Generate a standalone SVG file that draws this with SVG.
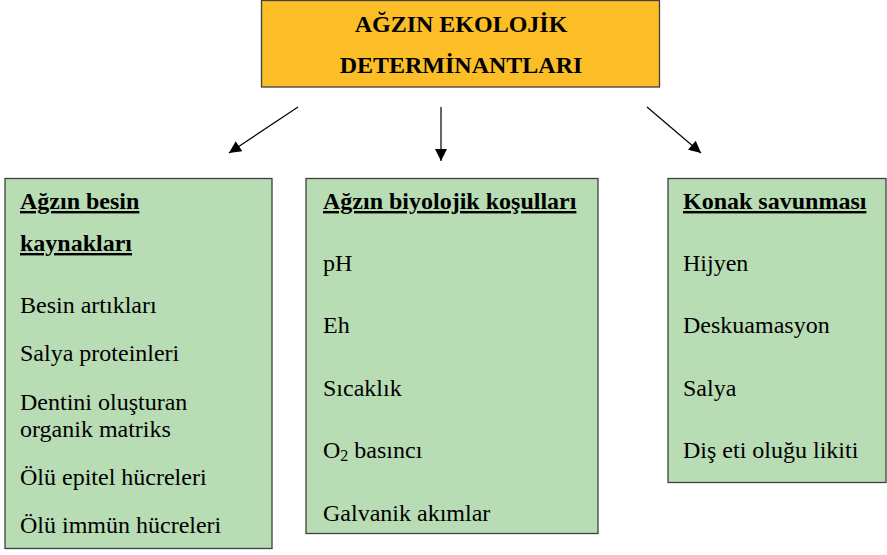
<svg xmlns="http://www.w3.org/2000/svg" width="887" height="555" viewBox="0 0 887 555">
<style>
text{font-family:'Liberation Serif', serif}
.t{font-size:24px;fill:#000}
.h{font-weight:bold;text-decoration:underline}
.title{font-size:24px;font-weight:bold;fill:#000;text-anchor:middle}
.box{fill:#B8DCB4;stroke:#404040;stroke-width:1.3}
.top{fill:#FBBE27;stroke:#404040;stroke-width:1.3}
.con{stroke:#000;stroke-width:1.2;fill:none;marker-end:url(#ah)}
</style>
<defs>
<marker id="ah" viewBox="0 0 10 10" refX="10" refY="5" markerUnits="userSpaceOnUse" markerWidth="14" markerHeight="12" orient="auto">
<path d="M0,0 L10,5 L0,10 z" fill="#000"/>
</marker>
</defs>
<rect width="887" height="555" fill="#fff"/>
<g id="root">
<rect class="top" x="261.5" y="0.5" width="398" height="86.5"/>
<text class="title" font-family="Liberation Serif, serif" x="461" y="32">AĞZIN EKOLOJİK</text>
<text class="title" font-family="Liberation Serif, serif" x="461" y="73">DETERMİNANTLARI</text>
</g>
<g id="connectors">
<line class="con" x1="298" y1="107" x2="229" y2="153"/>
<line class="con" x1="441" y1="107" x2="441" y2="161"/>
<line class="con" x1="647" y1="107" x2="701" y2="153"/>
</g>
<g id="besin" font-family="Liberation Serif, serif">
<rect class="box" x="5" y="178.5" width="267" height="370"/>
<text class="t h" x="20" y="209">Ağzın besin</text>
<text class="t h" x="20" y="251">kaynakları</text>
<text class="t" x="20" y="313">Besin artıkları</text>
<text class="t" x="20" y="361">Salya proteinleri</text>
<text class="t" x="20" y="410">Dentini oluşturan</text>
<text class="t" x="20" y="437">organik matriks</text>
<text class="t" x="20" y="485">Ölü epitel hücreleri</text>
<text class="t" x="20" y="533">Ölü immün hücreleri</text>
</g>
<g id="biyolojik" font-family="Liberation Serif, serif">
<rect class="box" x="306" y="178.5" width="292" height="355"/>
<text class="t h" x="323" y="209">Ağzın biyolojik koşulları</text>
<text class="t" x="323" y="271">pH</text>
<text class="t" x="323" y="333">Eh</text>
<text class="t" x="323" y="396">Sıcaklık</text>
<text class="t" x="323" y="458">O<tspan font-size="16" dy="3">2</tspan><tspan dy="-3"> basıncı</tspan></text>
<text class="t" x="323" y="521">Galvanik akımlar</text>
</g>
<g id="savunma" font-family="Liberation Serif, serif">
<rect class="box" x="668" y="178.5" width="218" height="304"/>
<text class="t h" x="683" y="209">Konak savunması</text>
<text class="t" x="683" y="271">Hijyen</text>
<text class="t" x="683" y="333">Deskuamasyon</text>
<text class="t" x="683" y="396">Salya</text>
<text class="t" x="683" y="458">Diş eti oluğu likiti</text>
</g>
</svg>
